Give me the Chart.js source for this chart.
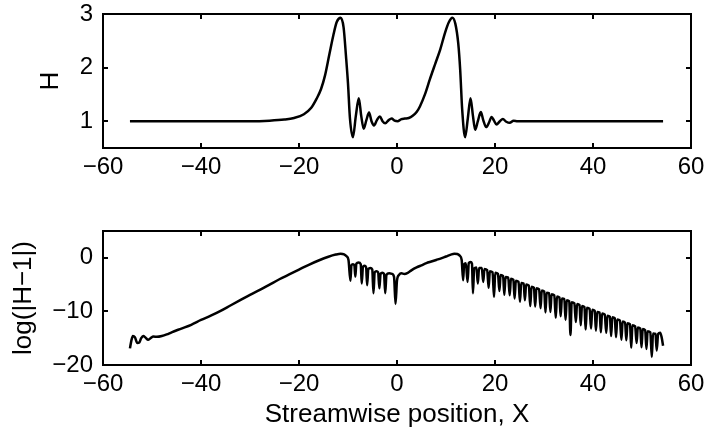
<!DOCTYPE html>
<html>
<head>
<meta charset="utf-8">
<script src="https://cdn.jsdelivr.net/npm/chart.js@4.4.0/dist/chart.umd.min.js"></script>
<style>
    body { margin: 0; background: #fff; }
    #wrap { position: relative; width: 708px; height: 439px; }
    .panel { position: absolute; left: 0; width: 708px; }
</style>
</head>
<body>
<div id="wrap">
    <div class="panel" style="top:0; height:200px;"><canvas id="topChart"></canvas></div>
    <div class="panel" style="top:200px; height:239px;"><canvas id="logChart"></canvas></div>
</div>
<script>
// Tick labels
const xTicks = [-60, -40, -20, 0, 20, 40, 60];
const hTicks = [1, 2, 3];
const logTicks = [-20, -10, 0];

// Upper panel: H against X  [x, H]
const hCurve = [
    [-54.5, 1.0], [-30, 1.0], [-26, 1.01], [-23, 1.03], [-21, 1.06], [-19, 1.13],
    [-17.5, 1.25], [-16.4, 1.42], [-15.5, 1.6], [-14.7, 1.85], [-13.8, 2.25], [-13.0, 2.6],
    [-12.3, 2.85], [-11.5, 2.93], [-10.9, 2.75], [-10.4, 2.2], [-10.0, 1.7], [-9.6, 1.05],
    [-9.0, 0.70], [-8.4, 1.1], [-7.8, 1.43], [-7.3, 1.1], [-6.8, 0.86], [-6.25, 1.02],
    [-5.7, 1.16], [-5.2, 1.0], [-4.7, 0.92], [-4.1, 1.02], [-3.5, 1.09], [-2.95, 1.0],
    [-2.4, 0.96], [-1.7, 1.02], [-1.1, 1.05], [-0.5, 1.01], [0.2, 1.0], [0.9, 1.04],
    [1.6, 1.05], [2.4, 1.06], [3.2, 1.1], [4.0, 1.17], [4.7, 1.28], [5.7, 1.5],
    [6.7, 1.78], [7.8, 2.07], [8.8, 2.33], [9.8, 2.65], [10.6, 2.85], [11.3, 2.93],
    [11.9, 2.82], [12.5, 2.45], [12.9, 1.95], [13.3, 1.22], [13.9, 0.70], [14.45, 1.05],
    [15.0, 1.43], [15.5, 1.1], [15.95, 0.84], [16.5, 1.0], [17.1, 1.17], [17.6, 1.02],
    [18.2, 0.89], [18.8, 0.98], [19.3, 1.08], [19.8, 1.01], [20.3, 0.94], [21.0, 1.0],
    [21.6, 1.04], [22.3, 0.99], [23.0, 0.97], [23.8, 1.01], [24.6, 1.0], [26, 1.0], [54.3, 1.0]
];

// Lower panel: log(|H-1|)  [x, value]
const logLeft = [
    [-54.5, -16.9], [-54.2, -15.4], [-53.9, -14.6], [-53.5, -14.8], [-53.0, -15.9], [-52.6, -15.8],
    [-52.2, -15.0], [-51.8, -14.6], [-51.3, -14.9], [-50.8, -15.3], [-50.3, -15.0], [-49.7, -14.7],
    [-49.0, -14.75], [-48.0, -14.6], [-47.0, -14.3], [-46.0, -13.9], [-44.0, -13.2], [-42.0, -12.5],
    [-40.0, -11.6], [-38.0, -10.8], [-36.0, -9.9], [-34.0, -8.9], [-32.0, -7.9], [-30.0, -6.9],
    [-28.0, -6.0], [-26.0, -5.0], [-24.0, -4.0], [-22.0, -3.1], [-20.0, -2.2], [-18.0, -1.3],
    [-16.0, -0.5], [-14.0, 0.2], [-12.5, 0.6], [-11.5, 0.75], [-10.8, 0.65], [-10.3, 0.3], [-9.9, -0.4]
];
const logMiddle = [
    [-9.5, -4.3], [-9.3, -1.4], [-9.0, -1.2], [-8.7, -1.4], [-8.5, -3.5], [-8.3, -1.1],
    [-7.85, -0.9], [-7.4, -1.2], [-7.2, -4.8], [-6.95, -1.7], [-6.65, -1.5], [-6.3, -1.8],
    [-6.1, -5.1], [-5.85, -2.1], [-5.45, -1.9], [-5.05, -2.2], [-4.8, -6.6], [-4.55, -2.7],
    [-4.2, -2.5], [-3.85, -2.7], [-3.6, -5.7], [-3.35, -3.0], [-3.0, -2.8], [-2.65, -3.0],
    [-2.4, -6.6], [-2.15, -3.2], [-1.6, -2.9], [-1.0, -3.0], [-0.6, -3.6], [-0.3, -8.6],
    [0.0, -4.2], [0.4, -3.2], [0.9, -2.9], [1.5, -3.0], [2.2, -2.8], [3.0, -2.3],
    [4.0, -1.8], [5.0, -1.4], [6.0, -1.0], [7.0, -0.7], [8.0, -0.4], [9.0, -0.1],
    [10.0, 0.25], [11.0, 0.6], [11.7, 0.75], [12.3, 0.7], [12.8, 0.4], [13.2, -0.4]
];
const logTail = [
    [13.5, -4.2], [13.7, -1.2], [14.05, -1.0], [14.4, -4.5], [14.65, -1.0], [15.0, -0.8], [15.3, -1.1],
    [15.5, -6.6], [15.75, -2.0], [16.2, -1.8], [16.5, -4.8], [16.75, -1.9], [17.3, -1.9],
    [17.6, -4.5], [17.85, -2.1], [18.4, -2.3], [18.7, -5.6], [18.95, -2.5], [19.5, -2.7],
    [19.8, -7.3], [20.05, -2.8], [20.6, -3.0], [20.9, -6.2], [21.15, -3.2], [21.65, -3.4],
    [21.9, -6.9], [22.15, -3.6], [22.7, -3.7], [23.0, -7.0], [23.25, -3.9], [23.75, -4.1],
    [24.0, -7.6], [24.25, -4.3], [24.8, -4.5], [25.1, -8.2], [25.35, -4.7], [25.85, -4.8],
    [26.1, -7.9], [26.35, -5.0], [26.9, -5.2], [27.2, -9.0], [27.45, -5.4], [27.95, -5.6],
    [28.2, -9.1], [28.45, -5.7], [29.0, -5.9], [29.3, -9.4], [29.55, -6.1], [30.05, -6.3],
    [30.3, -10.2], [30.55, -6.5], [31.05, -6.6], [31.3, -10.1], [31.55, -6.8], [32.1, -7.0],
    [32.4, -11.2], [32.65, -7.2], [33.15, -7.4], [33.4, -10.9], [33.65, -7.6], [34.15, -7.7],
    [34.4, -11.6], [34.65, -7.9], [35.15, -8.1], [35.4, -14.4], [35.65, -8.3], [36.2, -8.5],
    [36.5, -12.0], [36.75, -8.6], [37.25, -8.8], [37.5, -12.6], [37.75, -9.0], [38.25, -9.2],
    [38.5, -13.4], [38.75, -9.3], [39.3, -9.5], [39.6, -13.2], [39.85, -9.7], [40.35, -9.9],
    [40.6, -13.6], [40.85, -10.1], [41.35, -10.2], [41.6, -13.9], [41.85, -10.4], [42.4, -10.6],
    [42.7, -14.0], [42.95, -10.8], [43.45, -11.0], [43.7, -14.6], [43.95, -11.1], [44.45, -11.3],
    [44.7, -14.8], [44.95, -11.5], [45.5, -11.7], [45.8, -15.3], [46.05, -11.9], [46.55, -12.1],
    [46.8, -15.4], [47.05, -12.2], [47.55, -12.4], [47.8, -16.8], [48.05, -12.6], [48.6, -12.8],
    [48.9, -15.9], [49.15, -13.0], [49.65, -13.2], [49.9, -16.7], [50.15, -13.3], [50.65, -13.5],
    [50.9, -17.0], [51.15, -13.7], [51.7, -13.9], [52.0, -18.5], [52.25, -14.1], [52.75, -14.2],
    [53.0, -17.3], [53.3, -14.2], [53.7, -14.0], [54.0, -14.8], [54.3, -16.4]
];

const FONT = 'Liberation Sans, Arial, Helvetica, sans-serif';
const minus = v => String(v).replace('-', '\u2212');

// MATLAB-like box with inward tick marks on all four sides
const boxTicks = {
    id: 'boxTicks',
    afterDatasetsDraw(chart) {
        const { ctx, chartArea: a, scales: { x, y } } = chart;
        const len = 5;
        ctx.save();
        ctx.strokeStyle = '#000';
        ctx.lineWidth = 2;
        ctx.beginPath();
        x.ticks.forEach(t => {
            const px = Math.round(x.getPixelForValue(t.value));
            ctx.moveTo(px, a.bottom); ctx.lineTo(px, a.bottom - len);
            ctx.moveTo(px, a.top); ctx.lineTo(px, a.top + len);
        });
        y.ticks.forEach(t => {
            const py = Math.round(y.getPixelForValue(t.value));
            ctx.moveTo(a.left, py); ctx.lineTo(a.left + len, py);
            ctx.moveTo(a.right, py); ctx.lineTo(a.right - len, py);
        });
        ctx.stroke();
        ctx.strokeRect(a.left, a.top, a.right - a.left, a.bottom - a.top);
        ctx.restore();
    }
};

// keep label overflow from pushing the plot box around
const noEdgePadding = s => {
    s.paddingTop = 0; s.paddingBottom = 0;
    s.paddingLeft = 0; s.paddingRight = 0;
};

function makeChart(id, points, yMin, yMax, yTicks, opts) {
    return new Chart(document.getElementById(id), {
        type: 'line',
        data: {
            datasets: [{
                data: points.map(p => ({ x: p[0], y: p[1] })),
                borderColor: '#000',
                borderWidth: 2.5,
                pointRadius: 0,
                fill: false,
                cubicInterpolationMode: 'monotone'
            }]
        },
        plugins: [boxTicks],
        options: {
            responsive: true,
            maintainAspectRatio: false,
            animation: false,
            layout: { padding: { top: opts.top, right: 17, left: 0, bottom: 0 } },
            plugins: { legend: { display: false }, tooltip: { enabled: false } },
            scales: {
                x: {
                    type: 'linear',
                    min: -60,
                    max: 60,
                    grid: { display: false, drawTicks: false },
                    border: { display: false },
                    afterBuildTicks: s => { s.ticks = xTicks.map(v => ({ value: v })); },
                    afterFit: s => { s.height = opts.xHeight; noEdgePadding(s); },
                    ticks: {
                        padding: 5,
                        color: '#000',
                        maxRotation: 0,
                        font: { family: FONT, size: 24 },
                        callback: v => minus(v)
                    },
                    title: opts.xTitle ? {
                        display: true,
                        text: opts.xTitle,
                        color: '#000',
                        font: { family: FONT, size: 26 },
                        padding: { top: 0, bottom: 9 }
                    } : { display: false }
                },
                y: {
                    type: 'linear',
                    min: yMin,
                    max: yMax,
                    grid: { display: false, drawTicks: false },
                    border: { display: false },
                    afterBuildTicks: s => { s.ticks = yTicks.map(v => ({ value: v })); },
                    afterFit: s => { s.width = 103; noEdgePadding(s); },
                    ticks: {
                        padding: 10,
                        color: '#000',
                        font: { family: FONT, size: 24 },
                        callback: v => minus(v)
                    },
                    title: {
                        display: true,
                        text: opts.yTitle,
                        color: '#000',
                        font: { family: FONT, size: 26 },
                        padding: { top: opts.yTitlePad, bottom: 0 }
                    }
                }
            }
        }
    });
}

makeChart('topChart', hCurve, 0.5, 3, hTicks,
    { top: 14, xHeight: 52, yTitle: 'H', yTitlePad: 35 });

makeChart('logChart', logLeft.concat(logMiddle, logTail), -20, 5, logTicks,
    { top: 31, xHeight: 74, yTitle: 'log(|H\u22121|)', yTitlePad: 8, xTitle: 'Streamwise position, X' });
</script>
</body>
</html>
